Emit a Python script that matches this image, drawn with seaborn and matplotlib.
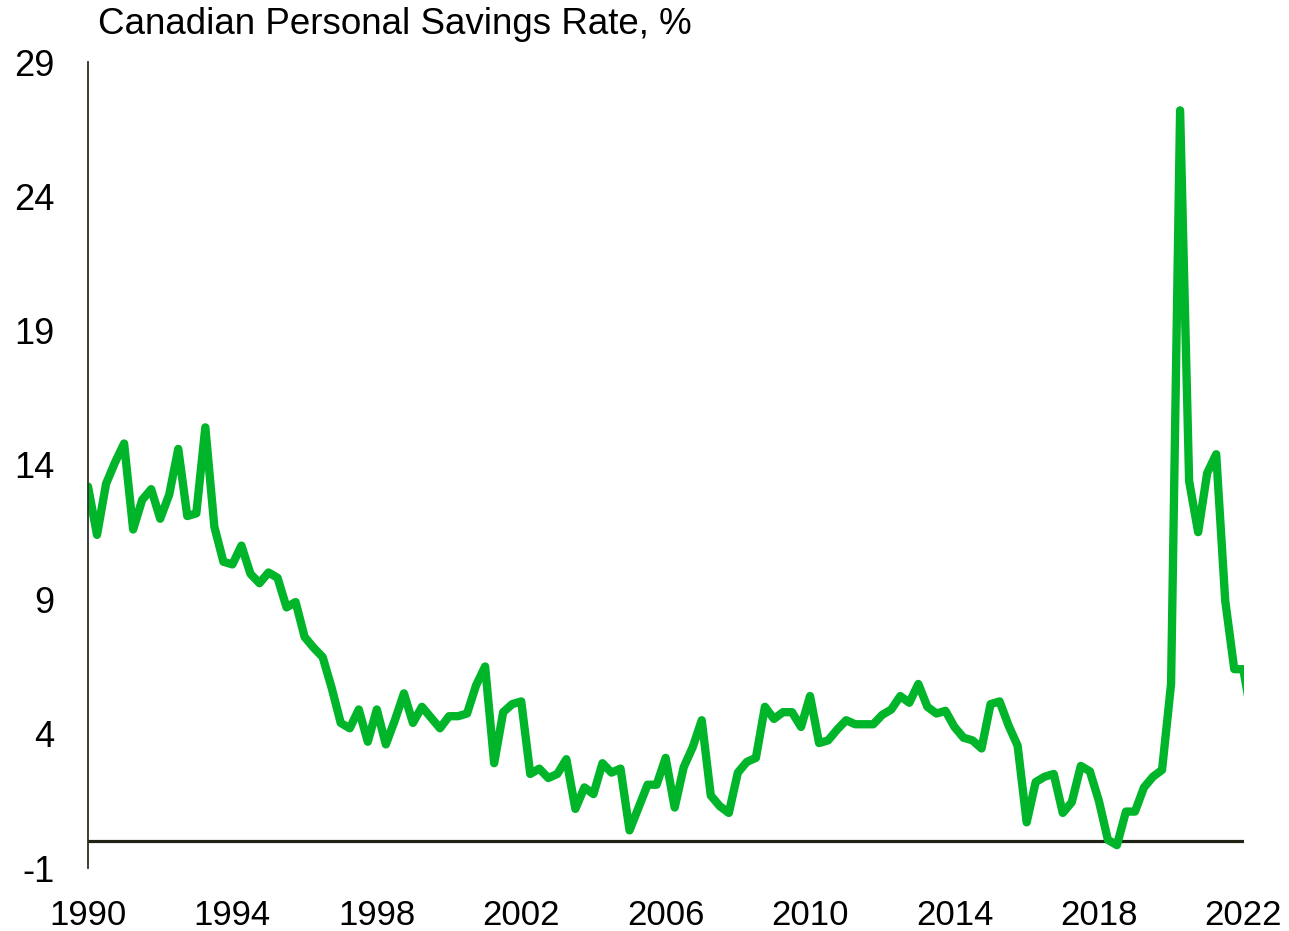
import matplotlib
matplotlib.use("Agg")
import matplotlib.pyplot as plt
import seaborn as sns
import pandas as pd
import numpy as np

# Quarterly Canadian personal savings rate, 1990Q1 .. 2022Q2
start_year = 1990
savings_rate = [
    13.2, 11.4, 13.3, 14.1,   # 1990
    14.8, 11.6, 12.7, 13.1,   # 1991
    12.0, 12.9, 14.6, 12.1,   # 1992
    12.2, 15.4, 11.7, 10.4,   # 1993
    10.3, 11.0, 9.95, 9.6,    # 1994
    10.0, 9.8, 8.7, 8.9,      # 1995
    7.6, 7.2, 6.85, 5.7,      # 1996
    4.4, 4.2, 4.9, 3.7,       # 1997
    4.9, 3.6, 4.5, 5.5,       # 1998
    4.4, 5.0, 4.6, 4.2,       # 1999
    4.65, 4.65, 4.75, 5.8,    # 2000
    6.5, 2.9, 4.8, 5.1,       # 2001
    5.2, 2.5, 2.7, 2.35,      # 2002
    2.5, 3.05, 1.2, 2.0,      # 2003
    1.75, 2.9, 2.55, 2.7,     # 2004
    0.4, 1.25, 2.1, 2.1,      # 2005
    3.1, 1.25, 2.75, 3.5,     # 2006
    4.5, 1.7, 1.3, 1.05,      # 2007
    2.55, 2.95, 3.1, 5.0,     # 2008
    4.55, 4.8, 4.8, 4.25,     # 2009
    5.4, 3.65, 3.75, 4.15,    # 2010
    4.5, 4.35, 4.35, 4.35,    # 2011
    4.7, 4.9, 5.4, 5.15,      # 2012
    5.85, 5.0, 4.75, 4.85,    # 2013
    4.25, 3.85, 3.75, 3.45,   # 2014
    5.1, 5.2, 4.3, 3.55,      # 2015
    0.7, 2.2, 2.4, 2.5,       # 2016
    1.05, 1.45, 2.8, 2.6,     # 2017
    1.5, 0.05, -0.15, 1.1,    # 2018
    1.1, 2.0, 2.4, 2.65,      # 2019
    5.85, 27.2, 13.4, 11.5,   # 2020
    13.7, 14.4, 8.95, 6.4,    # 2021
    6.4, 4.5,                 # 2022
]
x_ticks = [1990, 1994, 1998, 2002, 2006, 2010, 2014, 2018, 2022]
y_ticks = [-1, 4, 9, 14, 19, 24, 29]
title = "Canadian Personal Savings Rate, %"

df = pd.DataFrame({
    "date": [start_year + i / 4 for i in range(len(savings_rate))],
    "rate": savings_rate,
})

sns.set_style("white")
plt.rcParams["font.family"] = ["Liberation Sans", "DejaVu Sans"]

W, H = 1289, 931
fig = plt.figure(figsize=(W / 100, H / 100), dpi=100)
ax = fig.add_axes([88 / W, 1 - 868 / H, (1244 - 88) / W, (868 - 62) / H])

sns.lineplot(data=df, x="date", y="rate", ax=ax, color="#00B529",
             linewidth=6.0, legend=False)
for ln in ax.get_lines():
    ln.set_solid_joinstyle("round")
    ln.set_solid_capstyle("round")

ax.axhline(0, color="#1f2414", linewidth=2.3, zorder=1)

ax.set_xlim(1990, 2022.02)
ax.set_ylim(-1, 29)
ax.set_xticks(x_ticks)
ax.set_xticklabels([str(t) for t in x_ticks])
ax.set_yticks(y_ticks)
ax.set_yticklabels([str(t) for t in y_ticks])
ax.tick_params(axis="x", length=0, pad=22, labelsize=25, labelcolor="black")
ax.tick_params(axis="y", length=0, pad=24, labelsize=26, labelcolor="black")
ax.set_xlabel("")
ax.set_ylabel("")

for s in ["top", "right", "bottom"]:
    ax.spines[s].set_visible(False)
ax.spines["left"].set_color("#2a3320")
ax.spines["left"].set_linewidth(1.3)

fig.text(98 / W, 1 - 25 / H, title, fontsize=26.5, ha="left", va="center",
         color="black")

fig.savefig("out.png", dpi=100, facecolor="white")
